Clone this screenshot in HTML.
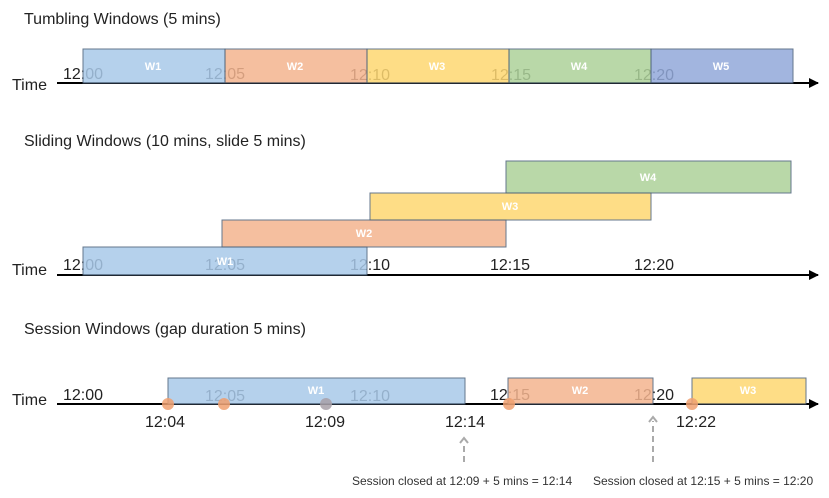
<!DOCTYPE html>
<html><head><meta charset="utf-8"><style>
body{margin:0;background:#fff}
svg{display:block;font-family:"Liberation Sans",sans-serif}
.b{stroke:#4a6078;stroke-width:1;opacity:.85}
.w{fill:#fff;font-size:11px;font-weight:bold;text-anchor:middle}
.t{font-size:16px;fill:#222}
</style></head><body>
<svg width="829" height="498" viewBox="0 0 829 498">
<defs><marker id="a" markerWidth="10" markerHeight="10" refX="9" refY="5" orient="auto" markerUnits="userSpaceOnUse"><path d="M0,0 L10,5 L0,10z" fill="#000"/></marker></defs>
<!-- Tumbling -->
<text x="24" y="24" class="t">Tumbling Windows (5 mins)</text>
<text x="12" y="90" class="t">Time</text>
<line x1="57" y1="83" x2="818" y2="83" stroke="#000" stroke-width="2" marker-end="url(#a)"/>
<g class="t"><text x="63" y="79">12:00</text><text x="205" y="79">12:05</text><text x="350" y="80">12:10</text><text x="491" y="80">12:15</text><text x="634" y="80">12:20</text></g>
<rect class="b" x="83" y="49" width="142" height="34" fill="#a9c9e9"/>
<rect class="b" x="225" y="49" width="142" height="34" fill="#f4b48f"/>
<rect class="b" x="367" y="49" width="142" height="34" fill="#fed872"/>
<rect class="b" x="509" y="49" width="142" height="34" fill="#add29a"/>
<rect class="b" x="651" y="49" width="142" height="34" fill="#92a9da"/>
<g class="w"><text x="153" y="70">W1</text><text x="295" y="70">W2</text><text x="437" y="70">W3</text><text x="579" y="70">W4</text><text x="721" y="70">W5</text></g>
<!-- Sliding -->
<text x="24" y="146" class="t">Sliding Windows (10 mins, slide 5 mins)</text>
<text x="12" y="275" class="t">Time</text>
<line x1="57" y1="275" x2="818" y2="275" stroke="#000" stroke-width="2" marker-end="url(#a)"/>
<g class="t"><text x="63" y="270">12:00</text><text x="205" y="270">12:05</text><text x="350" y="270">12:10</text><text x="490" y="270">12:15</text><text x="634" y="270">12:20</text></g>
<rect class="b" x="506" y="161" width="285" height="32" fill="#add29a"/>
<rect class="b" x="370" y="193" width="281" height="27" fill="#fed872"/>
<rect class="b" x="222" y="220" width="284" height="27" fill="#f4b48f"/>
<rect class="b" x="83" y="247" width="284" height="28" fill="#a9c9e9"/>
<g class="w"><text x="648" y="181">W4</text><text x="510" y="210">W3</text><text x="364" y="237">W2</text><text x="225" y="265">W1</text></g>
<!-- Session -->
<text x="24" y="334" class="t">Session Windows (gap duration 5 mins)</text>
<text x="12" y="405" class="t">Time</text>
<line x1="57" y1="404" x2="818" y2="404" stroke="#000" stroke-width="2" marker-end="url(#a)"/>
<g class="t"><text x="63" y="400">12:00</text><text x="205" y="401">12:05</text><text x="350" y="401">12:10</text><text x="490" y="400">12:15</text><text x="634" y="400">12:20</text>
<text x="145" y="427">12:04</text><text x="305" y="427">12:09</text><text x="445" y="427">12:14</text><text x="676" y="427">12:22</text></g>
<rect class="b" x="168" y="378" width="297" height="26" fill="#a9c9e9"/>
<rect class="b" x="508" y="378" width="145" height="26" fill="#f4b48f"/>
<rect class="b" x="692" y="378" width="114" height="26" fill="#fed872"/>
<g class="w"><text x="316" y="394">W1</text><text x="580" y="394">W2</text><text x="748" y="394">W3</text></g>
<g fill="#f0a070" opacity=".85"><circle cx="168" cy="404" r="6"/><circle cx="224" cy="404" r="6"/><circle cx="326" cy="404" r="6" fill="#a8a0a8"/><circle cx="509" cy="404" r="6"/><circle cx="692" cy="404" r="6"/></g>
<g stroke="#aaa" stroke-width="2" stroke-dasharray="6,4" fill="none"><line x1="464" y1="462" x2="464" y2="442"/><line x1="653" y1="462" x2="653" y2="421"/></g>
<g stroke="#aaa" stroke-width="2" fill="none"><path d="M460,443 L464,438 L468,443"/><path d="M649,422 L653,417 L657,422"/></g>
<g font-size="12" fill="#333"><text x="352" y="485">Session closed at 12:09 + 5 mins = 12:14</text><text x="593" y="485">Session closed at 12:15 + 5 mins = 12:20</text></g>
</svg>
</body></html>
